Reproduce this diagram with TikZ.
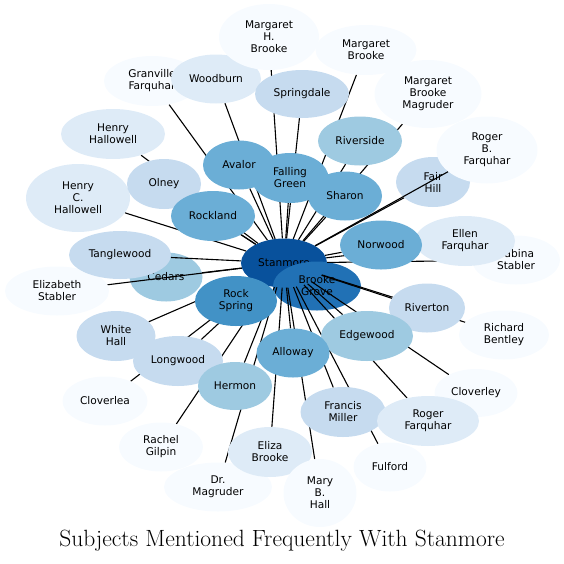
\documentclass[tikz,border=0pt]{standalone}
\usepackage{fontspec}
\newfontfamily\labelfont{DejaVu Sans}
\usepackage{tikz}
\usetikzlibrary{shapes.geometric}

\definecolor{blues1}{HTML}{F7FBFF}
\definecolor{blues2}{HTML}{DEEBF7}
\definecolor{blues3}{HTML}{C6DBEF}
\definecolor{blues4}{HTML}{9ECAE1}
\definecolor{blues5}{HTML}{6BAED6}
\definecolor{blues6}{HTML}{4292C6}
\definecolor{blues7}{HTML}{2171B5}
\definecolor{blues8}{HTML}{08519C}

\pgfdeclarelayer{under}
\pgfdeclarelayer{lines}
\pgfsetlayers{under,lines,main}

\begin{document}
\begin{tikzpicture}[
        x=1pt, y=-1pt,
        place/.style={ellipse, inner sep=0pt, align=center,
            font=\labelfont\fontsize{10.6}{12}\selectfont},
        ext/.style 2 args={minimum width=#1pt, minimum height=#2pt},
        tone/.style={place, fill=blues#1},
        link/.style={line width=1.1pt}
    ]
        \useasboundingbox (0,0) rectangle (564,563);

        % Nodes under the links
        \begin{pgfonlayer}{under}
        \node[tone=8, ext={86}{49}] (stanmore) at (284,263) {Stanmore};
        \node[tone=7, ext={88}{49}] (brookegrove) at (317,286) {Brooke\\Grove};
        \node[tone=4, ext={73}{49}] (cedars) at (166,277) {Cedars};
        \node[tone=3, ext={74}{50}] (fairhill) at (433,182) {Fair\\Hill};
        \end{pgfonlayer}

        % Nodes
        \node[tone=1, ext={96}{50}] (granville) at (152,81) {Granville\\Farquhar};
        \node[tone=2, ext={90}{49}] (woodburn) at (216,79) {Woodburn};
        \node[tone=1, ext={100}{66}] (margarethb) at (269,37) {Margaret\\H.\\Brooke};
        \node[tone=3, ext={94}{48}] (springdale) at (302,94) {Springdale};
        \node[tone=1, ext={101}{50}] (margaretb) at (366,50) {Margaret\\Brooke};
        \node[tone=1, ext={107}{68}] (margaretbm) at (428,94) {Margaret\\Brooke\\Magruder};
        \node[tone=1, ext={101}{67}] (rogerbf) at (487,150) {Roger\\B.\\Farquhar};
        \node[tone=4, ext={84}{49}] (riverside) at (360,141) {Riverside};
        \node[tone=5, ext={72}{49}] (avalor) at (239,165) {Avalor};
        \node[tone=5, ext={77}{50}] (fallinggreen) at (290,178) {Falling\\Green};
        \node[tone=5, ext={74}{49}] (sharon) at (345,196) {Sharon};
        \node[tone=2, ext={104}{50}] (henryh) at (113,134) {Henry\\Hallowell};
        \node[tone=2, ext={104}{68}] (henrych) at (78,198) {Henry\\C.\\Hallowell};
        \node[tone=3, ext={74}{50}] (olney) at (164,184) {Olney};
        \node[tone=5, ext={84}{50}] (rockland) at (213,216) {Rockland};
        \node[tone=1, ext={88}{49}] (sabina) at (516,260) {Sabina\\Stabler};
        \node[tone=2, ext={100}{50}] (ellen) at (465,241) {Ellen\\Farquhar};
        \node[tone=5, ext={82}{49}] (norwood) at (381,245) {Norwood};
        \node[tone=1, ext={104}{49}] (elizabeth) at (57,291) {Elizabeth\\Stabler};
        \node[tone=3, ext={102}{48}] (tanglewood) at (120,255) {Tanglewood};
        \node[tone=6, ext={82}{50}] (rockspring) at (236,301) {Rock\\Spring};
        \node[tone=1, ext={90}{49}] (bentley) at (504,335) {Richard\\Bentley};
        \node[tone=3, ext={76}{49}] (riverton) at (427,308) {Riverton};
        \node[tone=4, ext={92}{50}] (edgewood) at (367,336) {Edgewood};
        \node[tone=3, ext={79}{50}] (whitehall) at (116,336) {White\\Hall};
        \node[tone=3, ext={90}{50}] (longwood) at (178,361) {Longwood};
        \node[tone=4, ext={74}{48}] (hermon) at (235,386) {Hermon};
        \node[tone=5, ext={73}{49}] (alloway) at (293,353) {Alloway};
        \node[tone=1, ext={85}{49}] (cloverlea) at (105,401) {Cloverlea};
        \node[tone=1, ext={83}{48}] (cloverley) at (476,393) {Cloverley};
        \node[tone=3, ext={85}{50}] (francis) at (343,412) {Francis\\Miller};
        \node[tone=2, ext={102}{50}] (rogerf) at (428,421) {Roger\\Farquhar};
        \node[tone=1, ext={84}{49}] (rachel) at (161,447) {Rachel\\Gilpin};
        \node[tone=1, ext={108}{49}] (drmagruder) at (218,487) {Dr.\\Magruder};
        \node[tone=2, ext={84}{50}] (eliza) at (270,452) {Eliza\\Brooke};
        \node[tone=1, ext={73}{68}] (maryhall) at (320,493) {Mary\\B.\\Hall};
        \node[tone=1, ext={73}{49}] (fulford) at (390,467) {Fulford};

        % Links
        \begin{pgfonlayer}{lines}
        \foreach \other in {granville, woodburn, margarethb, springdale, margaretb,
                margaretbm, rogerbf, riverside, avalor, fallinggreen, sharon,
                henryh, henrych, olney, fairhill, rockland, sabina, ellen, norwood,
                elizabeth, tanglewood, cedars, bentley, riverton, edgewood,
                whitehall, longwood, hermon, alloway, cloverlea, cloverley,
                francis, rogerf, rachel, drmagruder, eliza, maryhall, fulford}
            \draw[link] (stanmore) -- (\other);
        \end{pgfonlayer}

        % Title
        \node[font=\fontsize{23.5}{27}\selectfont] (title) at (282,541)
            {Subjects Mentioned Frequently With Stanmore};
    \end{tikzpicture}
\end{document}
